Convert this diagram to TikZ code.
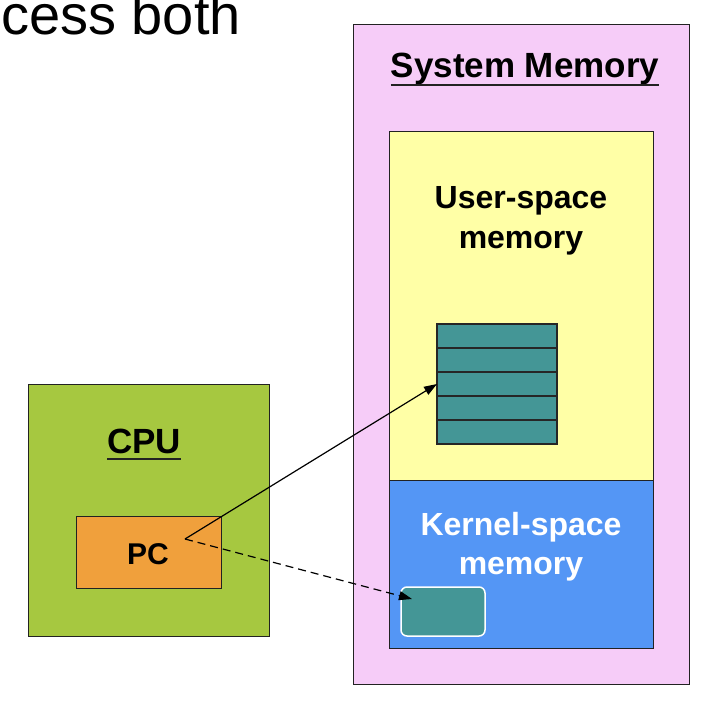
\documentclass[tikz,border=0pt]{standalone}
\usepackage{fontspec}
\setmainfont{Liberation Sans}
\usetikzlibrary{arrows.meta}
\definecolor{pinkbg}{RGB}{246,204,248}
\definecolor{yel}{RGB}{255,255,166}
\definecolor{blu}{RGB}{84,150,245}
\definecolor{grn}{RGB}{166,200,64}
\definecolor{org}{RGB}{240,160,60}
\definecolor{teal2}{RGB}{68,150,150}
\definecolor{edge}{RGB}{34,34,34}
\tikzset{
  box/.style={draw=edge, line width=1pt, inner sep=0pt, outer sep=0pt, anchor=north west},
  lbl/.style={inner sep=0pt, outer sep=0pt, anchor=base, font=\bfseries\fontsize{32}{38}\selectfont},
  ttl/.style={inner sep=0pt, outer sep=0pt, anchor=base, font=\bfseries\fontsize{35}{40}\selectfont},
  uline/.style={line width=1.6pt, draw=edge},
  row/.style={draw=black!85, line width=1.4pt, fill=teal2, inner sep=0pt, outer sep=0pt, anchor=north west, minimum width=120pt, minimum height=24pt},
  arr/.style={line width=1.2pt, -{Triangle[length=13pt,width=9pt]}},
}
\begin{document}
\begin{tikzpicture}[x=1pt,y=-1pt]
\useasboundingbox (0,0) rectangle (709,704);
% top partial text
\node[inner sep=0pt, anchor=base west, font=\fontsize{56}{60}\selectfont] (head) at (1,34) {cess both};
% system memory
\node[box, fill=pinkbg, minimum width=336pt, minimum height=660pt] (sys) at (353,24) {};
\node[ttl] (systt) at (525,77) {System Memory};
\draw[uline] ([yshift=-8pt]systt.base west) -- ([yshift=-8pt]systt.base east);
\node[box, fill=yel, minimum width=264pt, minimum height=349pt] (user) at (389,131) {};
\node[box, fill=blu, minimum width=264pt, minimum height=168pt] (kern) at (389,480) {};
\node[lbl] (usera) at (521,208) {User-space};
\node[lbl] (userb) at (521,248) {memory};
\node[lbl, text=white] (kerna) at (521,535) {Kernel-space};
\node[lbl, text=white] (kernb) at (521,574) {memory};
% stack
\node[row] (s1) at (437,324) {};
\node[row] (s2) at (437,348) {};
\node[row] (s3) at (437,372) {};
\node[row] (s4) at (437,396) {};
\node[row] (s5) at (437,420) {};
% kernel small box
\node[draw=white, line width=1.5pt, fill=teal2, rounded corners=6pt, inner sep=0pt, outer sep=0pt, anchor=north west, minimum width=84pt, minimum height=49pt] (kbox) at (401,587) {};
% CPU
\node[box, fill=grn, minimum width=241pt, minimum height=252pt] (cpu) at (28,384) {};
\node[ttl] (cputt) at (144,453) {CPU};
\draw[uline] ([yshift=-6pt]cputt.base west) -- ([yshift=-6pt]cputt.base east);
\node[box, fill=org, minimum width=145pt, minimum height=72pt] (pc) at (76,516) {};
\node[lbl, font=\bfseries\fontsize{30}{36}\selectfont] (pctt) at (148,564) {PC};
% arrows
\coordinate (pcpt) at (185,539);
\coordinate (ktip) at (412,599);
\draw[arr] (pcpt) -- (s3.west);
\draw[arr, dash pattern=on 8pt off 5pt] (pcpt) -- (ktip);
\end{tikzpicture}
\end{document}
